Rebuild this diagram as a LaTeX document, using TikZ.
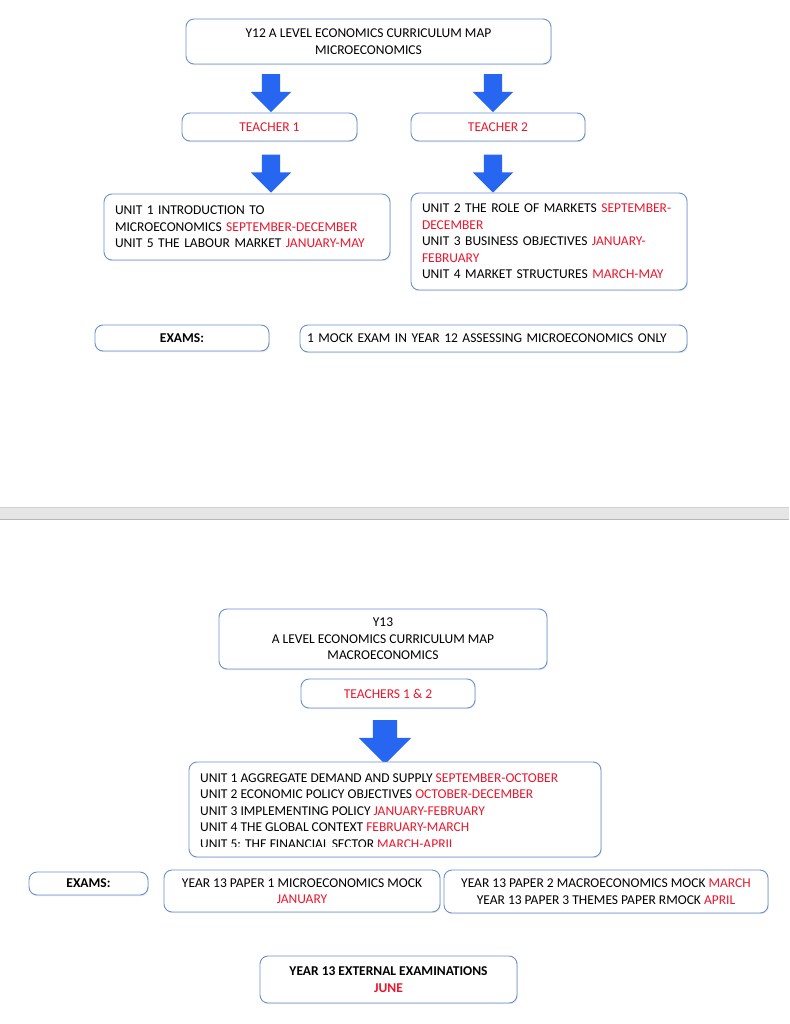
\documentclass[tikz,border=0pt]{standalone}
\usepackage{fontspec}
\setmainfont{Carlito}
\usepackage{tikz}
\usetikzlibrary{shapes.arrows,shadows}

\definecolor{boxline}{RGB}{104,145,208}
\definecolor{arrowblue}{RGB}{38,102,240}
\definecolor{monthred}{RGB}{236,22,44}
\definecolor{bandgray}{RGB}{229,229,229}
\newcommand{\mon}[1]{\textcolor{monthred}{#1}}
\newcommand{\cardfont}{\fontsize{13.5}{16.5}\selectfont}

\tikzset{
    card/.style={draw=boxline, line width=0.9pt, rounded corners=8pt, fill=white,
        drop shadow={opacity=0.18, shadow xshift=0.8pt, shadow yshift=-1.2pt},
        inner sep=0pt, align=center, font=\cardfont},
    listcard/.style={card, align=left, inner xsep=11pt},
    downarrow/.style={single arrow, shape border rotate=270, fill=arrowblue, draw=none,
        inner sep=9pt, single arrow head extend=11pt, minimum height=38pt},
    bigdownarrow/.style={downarrow, inner sep=12pt, single arrow head extend=14pt, minimum height=44pt},
    listtext/.style={inner sep=0pt, align=left, font=\cardfont}
}

\begin{document}
\begin{tikzpicture}[x=1pt, y=-1pt]
            \useasboundingbox[fill=white] (0,0) rectangle (789,1024);
            % Y12
            \node[card, minimum width=365, minimum height=45] (titleA) at (368.5,41.5)
                {Y12 A LEVEL ECONOMICS CURRICULUM MAP\\MICROECONOMICS};
            \node[downarrow] (arrA1) at (271,88.5) {};
            \node[downarrow] (arrA2) at (493,88.5) {};
            \node[card, minimum width=175, minimum height=28] (teacherA) at (269.5,127) {\mon{TEACHER 1}};
            \node[card, minimum width=174, minimum height=28] (teacherB) at (498,127) {\mon{TEACHER 2}};
            \node[downarrow] (arrB1) at (271,169) {};
            \node[downarrow] (arrB2) at (493,169) {};
            \node[listcard, text width=264, minimum height=66] (unitsA) at (247,227)
                {UNIT 1 INTRODUCTION TO\\MICROECONOMICS \mon{SEPTEMBER-DECEMBER}\\UNIT 5 THE LABOUR MARKET \mon{JANUARY-MAY}};
            \node[listcard, text width=254, minimum height=97] (unitsB) at (549,241.5)
                {UNIT 2 THE ROLE OF MARKETS \mon{SEPTEMBER-}\\\mon{DECEMBER}\\UNIT 3 BUSINESS OBJECTIVES \mon{JANUARY-}\\\mon{FEBRUARY}\\UNIT 4 MARKET STRUCTURES \mon{MARCH-MAY}};
            \node[card, minimum width=174, minimum height=26] (examsA) at (182,338) {\textbf{EXAMS:}};
            \node[listcard, inner xsep=7pt, text width=373, minimum height=27] (mockA) at (493.5,338.5)
                {1 MOCK EXAM IN YEAR 12 ASSESSING MICROECONOMICS ONLY};

            % page break
            \fill[bandgray] (0,507) rectangle (789,519);
            \draw[black!18, line width=0.8pt] (0,507) -- (789,507);
            \draw[black!28, line width=0.8pt] (0,519) -- (789,519);

            % Y13
            \node[card, minimum width=328, minimum height=60] (titleB) at (383,639)
                {Y13\\A LEVEL ECONOMICS CURRICULUM MAP\\MACROECONOMICS};
            \node[card, minimum width=174, minimum height=29] (teacherC) at (388,693.5) {\mon{TEACHERS 1 \& 2}};
            \node[bigdownarrow] (arrC) at (385,736) {};
            \node[card, minimum width=412, minimum height=95] (unitsC) at (395,809.5) {};
            \begin{scope}
                \clip (190,763) rectangle (600,846);
                \node[listtext, anchor=base west] (unitsCtext) at (200,848)
                    {UNIT 1 AGGREGATE DEMAND AND SUPPLY \mon{SEPTEMBER-OCTOBER}\\
                     UNIT 2 ECONOMIC POLICY OBJECTIVES \mon{OCTOBER-DECEMBER}\\
                     UNIT 3 IMPLEMENTING POLICY \mon{JANUARY-FEBRUARY}\\
                     UNIT 4 THE GLOBAL CONTEXT \mon{FEBRUARY-MARCH}\\
                     UNIT 5: THE FINANCIAL SECTOR \mon{MARCH-APRIL}};
            \end{scope}
            \node[card, minimum width=119, minimum height=23] (examsB) at (88.5,883.5) {\textbf{EXAMS:}};
            \node[card, minimum width=276, minimum height=42] (paperA) at (302,891)
                {YEAR 13 PAPER 1 MICROECONOMICS MOCK\\\mon{JANUARY}};
            \node[card, minimum width=324, minimum height=43] (paperB) at (606,891.5)
                {YEAR 13 PAPER 2 MACROECONOMICS MOCK \mon{MARCH}\\YEAR 13 PAPER 3 THEMES PAPER RMOCK \mon{APRIL}};
            \node[card, minimum width=257, minimum height=47, font=\bfseries\cardfont] (external) at (388.5,979.5)
                {YEAR 13 EXTERNAL EXAMINATIONS\\\mon{JUNE}};
        \end{tikzpicture}
\end{document}
